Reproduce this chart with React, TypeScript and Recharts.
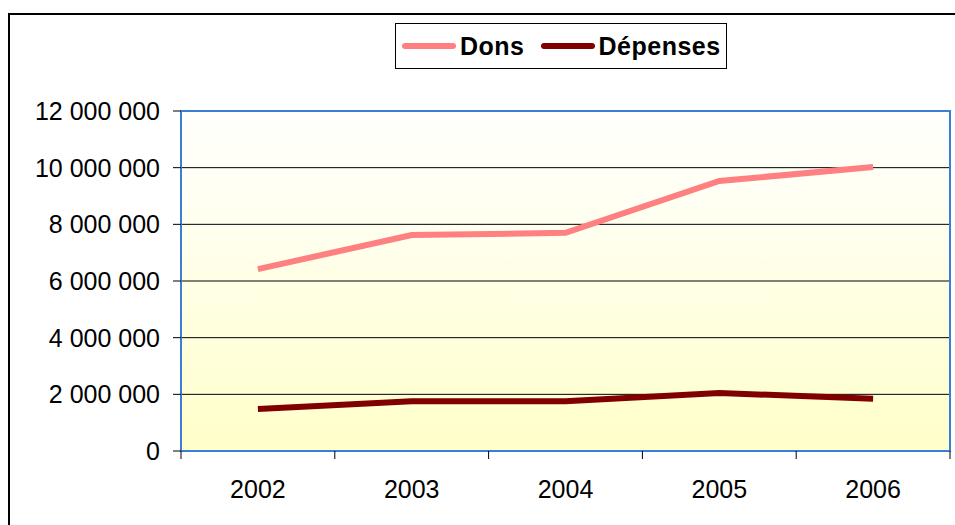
import { LineChart, Line, XAxis, YAxis, CartesianGrid, Legend, ReferenceArea } from 'recharts';

const years = [2002, 2003, 2004, 2005, 2006];
const dons = [6420000, 7620000, 7700000, 9530000, 10020000];
const depenses = [1480000, 1760000, 1760000, 2050000, 1840000];
const yTicks = [0, 2000000, 4000000, 6000000, 8000000, 10000000, 12000000];
const bandEdges = [2001.5, 2002.5, 2003.5, 2004.5, 2005.5, 2006.5];

const data = years.map((year, i) => ({ year, dons: dons[i], depenses: depenses[i] }));
const xTicks = [...bandEdges, ...years].sort((a, b) => a - b);

const font = '"Liberation Sans", Arial, sans-serif';

const formatNumber = (v: number) => String(v).replace(/\B(?=(\d{3})+(?!\d))/g, ' ');

// Excel-style category axis: labels at band centres, tick marks at band edges
function XTick(props: any) {
  const { x, y, payload } = props;
  const v = payload.value as number;
  if (Number.isInteger(v)) {
    return (
      <text x={x} y={y + 29} dy="0.71em" textAnchor="middle" fill="#000" fontSize={25} fontFamily={font}>
        {v}
      </text>
    );
  }
  return <line x1={x} y1={y} x2={x} y2={y + 8} stroke="#000" strokeWidth={1} />;
}

function LegendBox() {
  const items = [
    { label: 'Dons', color: '#FF8080' },
    { label: 'Dépenses', color: '#800000' },
  ];
  return (
    <div
      style={{
        boxSizing: 'border-box',
        width: 332,
        height: 46,
        border: '1px solid #000',
        background: '#fff',
        display: 'flex',
        alignItems: 'center',
        paddingLeft: 6,
        fontFamily: font,
        fontWeight: 'bold',
        fontSize: 25,
        letterSpacing: 0.5,
        color: '#000',
      }}
    >
      {items.map((it) => (
        <div key={it.label} style={{ display: 'flex', alignItems: 'center', marginRight: 16 }}>
          <svg width={54} height={10} style={{ marginRight: 4 }}>
            <line x1={3} y1={5} x2={51} y2={5} stroke={it.color} strokeWidth={6} strokeLinecap="round" />
          </svg>
          <span>{it.label}</span>
        </div>
      ))}
    </div>
  );
}

export default function App() {
  return (
    <div style={{ position: 'absolute', left: 0, top: 0, width: 955, height: 525, background: '#fff' }}>
      <div
        style={{
          position: 'absolute',
          left: 8,
          top: 13,
          right: 0,
          bottom: 0,
          borderLeft: '2px solid #000',
          borderTop: '2px solid #000',
        }}
      />
      <LineChart
        width={955}
        height={525}
        data={data}
        margin={{ top: 111, right: 5, bottom: 0, left: 0 }}
        style={{ position: 'absolute', left: 0, top: 0, fontFamily: font }}
      >
        <defs>
          <linearGradient id="bg" x1="0" y1="0" x2="0" y2="1">
            <stop offset="0%" stopColor="#FFFFFB" />
            <stop offset="25%" stopColor="#FFFFF4" />
            <stop offset="100%" stopColor="#FFFFCA" />
          </linearGradient>
        </defs>
        <CartesianGrid vertical={false} stroke="#000" strokeWidth={1} fill="url(#bg)" fillOpacity={1} />
        <XAxis
          dataKey="year"
          type="number"
          domain={[2001.5, 2006.5]}
          ticks={xTicks}
          interval={0}
          tickLine={false}
          tickSize={0}
          tickMargin={0}
          axisLine={false}
          height={74}
          tick={<XTick />}
        />
        <YAxis
          width={181}
          domain={[0, 12000000]}
          ticks={yTicks}
          tickFormatter={formatNumber}
          tickSize={8}
          tickMargin={13}
          tickLine={{ stroke: '#000' }}
          axisLine={false}
          tick={{ fill: '#000', fontSize: 25, fontFamily: font }}
        />
        <ReferenceArea
          x1={2001.5}
          x2={2006.5}
          y1={0}
          y2={12000000}
          fill="none"
          stroke="#3A7FD5"
          strokeWidth={2}
          fillOpacity={0}
        />
        <Legend
          layout="horizontal"
          verticalAlign="middle"
          align="center"
          wrapperStyle={{ left: 395, top: 23, width: 332, height: 46 }}
          content={() => <LegendBox />}
        />
        <Line
          dataKey="dons"
          name="Dons"
          stroke="#FF8080"
          strokeWidth={6}
          dot={false}
          isAnimationActive={false}
        />
        <Line
          dataKey="depenses"
          name="Dépenses"
          stroke="#800000"
          strokeWidth={6}
          dot={false}
          isAnimationActive={false}
        />
      </LineChart>
    </div>
  );
}
